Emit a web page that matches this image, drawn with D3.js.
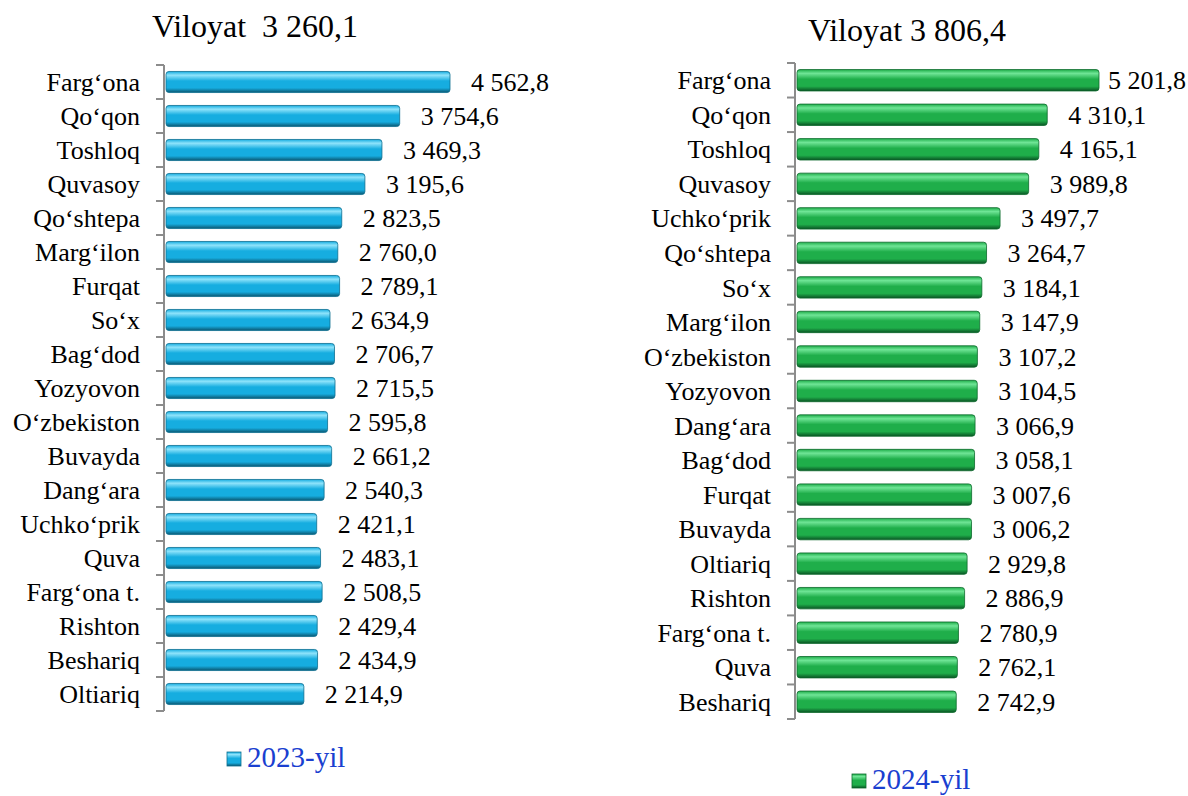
<!DOCTYPE html>
<html>
<head>
<meta charset="utf-8">
<script src="https://cdn.jsdelivr.net/npm/d3@7"></script>
<style>
  body { margin: 0; background: #fff; }
  text { font-family: "Liberation Serif", "Times New Roman", serif; }
</style>
</head>
<body>
<svg id="chart" width="1188" height="796"></svg>
<script>
// 2023
const districts2023 = ["Farg‘ona", "Qo‘qon", "Toshloq", "Quvasoy", "Qo‘shtepa", "Marg‘ilon", "Furqat", "So‘x",
  "Bag‘dod", "Yozyovon", "O‘zbekiston", "Buvayda", "Dang‘ara", "Uchko‘prik", "Quva", "Farg‘ona t.",
  "Rishton", "Beshariq", "Oltiariq"];
const values2023 = [4562.8, 3754.6, 3469.3, 3195.6, 2823.5, 2760.0, 2789.1, 2634.9, 2706.7, 2715.5,
  2595.8, 2661.2, 2540.3, 2421.1, 2483.1, 2508.5, 2429.4, 2434.9, 2214.9];
const total2023 = 3260.1;

// 2024
const districts2024 = ["Farg‘ona", "Qo‘qon", "Toshloq", "Quvasoy", "Uchko‘prik", "Qo‘shtepa", "So‘x", "Marg‘ilon",
  "O‘zbekiston", "Yozyovon", "Dang‘ara", "Bag‘dod", "Furqat", "Buvayda", "Oltiariq", "Rishton",
  "Farg‘ona t.", "Quva", "Beshariq"];
const values2024 = [5201.8, 4310.1, 4165.1, 3989.8, 3497.7, 3264.7, 3184.1, 3147.9, 3107.2, 3104.5,
  3066.9, 3058.1, 3007.6, 3006.2, 2929.8, 2886.9, 2780.9, 2762.1, 2742.9];
const total2024 = 3806.4;

const fmt = v => {
  const [i, f] = v.toFixed(1).split(".");
  return i.replace(/\B(?=(\d{3})+(?!\d))/g, " ") + "," + f;
};

const svg = d3.select("#chart");
const defs = svg.append("defs");

function makeGrad(id, light, mid, dark) {
  const g = defs.append("linearGradient").attr("id", id)
    .attr("x1", 0).attr("y1", 0).attr("x2", 0).attr("y2", 1);
  g.append("stop").attr("offset", "0%").attr("stop-color", mid);
  g.append("stop").attr("offset", "18%").attr("stop-color", light);
  g.append("stop").attr("offset", "45%").attr("stop-color", mid);
  g.append("stop").attr("offset", "78%").attr("stop-color", mid);
  g.append("stop").attr("offset", "100%").attr("stop-color", dark);
}
makeGrad("gBlue", "#8ee3fb", "#16ade0", "#0a5670");
makeGrad("gGreen", "#6fe596", "#1fae4a", "#0a5424");

function drawPanel(cfg) {
  const { names, values, total, axisX, top, bottom, xMax, maxPx, rightEdge, grad, stroke, titleX, titleY, legX, legY, legText } = cfg;

  const y = d3.scaleBand().domain(names).range([top, bottom]).paddingInner(0.38).paddingOuter(0.19);
  const x = d3.scaleLinear().domain([0, xMax]).range([axisX + 2, axisX + 2 + maxPx]);

  const g = svg.append("g");

  // bars
  g.selectAll("rect.bar").data(names).join("rect")
    .attr("class", "bar")
    .attr("x", x(0))
    .attr("y", (d) => y(d))
    .attr("width", (d, i) => x(values[i]) - x(0))
    .attr("height", y.bandwidth())
    .attr("rx", 3)
    .attr("fill", `url(#${grad})`)
    .attr("stroke", stroke)
    .attr("stroke-width", 0.8);

  // axis line + boundary ticks
  const step = (bottom - top) / names.length;
  g.append("line")
    .attr("x1", axisX).attr("x2", axisX)
    .attr("y1", top).attr("y2", bottom)
    .attr("stroke", "#8c8c8c").attr("stroke-width", 2);
  g.selectAll("line.tick").data(d3.range(names.length + 1)).join("line")
    .attr("class", "tick")
    .attr("x1", axisX - 8).attr("x2", axisX)
    .attr("y1", i => top + i * step).attr("y2", i => top + i * step)
    .attr("stroke", "#8c8c8c").attr("stroke-width", 2);

  // category labels
  g.selectAll("text.cat").data(names).join("text")
    .attr("class", "cat")
    .attr("x", axisX - 24)
    .attr("y", d => y(d) + y.bandwidth() / 2)
    .attr("dy", "0.35em")
    .attr("text-anchor", "end")
    .attr("font-size", 26)
    .attr("fill", "#000")
    .text(d => d);

  // value labels
  g.selectAll("text.val").data(names).join("text")
    .attr("class", "val")
    .attr("y", d => y(d) + y.bandwidth() / 2)
    .attr("dy", "0.35em")
    .attr("font-size", 26)
    .attr("fill", "#000")
    .text((d, i) => fmt(values[i]))
    .each(function (d, i) {
      const w = this.getComputedTextLength();
      const px = Math.min(x(values[i]) + 21, rightEdge - w);
      d3.select(this).attr("x", px);
    });

  // title
  svg.append("text")
    .attr("x", titleX).attr("y", titleY)
    .attr("font-size", 32)
    .attr("fill", "#000")
    .style("white-space", "pre")
    .text(cfg.titlePrefix + fmt(total));

  // legend
  svg.append("rect")
    .attr("x", legX).attr("y", legY - 15)
    .attr("width", 14).attr("height", 14)
    .attr("fill", `url(#${grad})`)
    .attr("stroke", stroke).attr("stroke-width", 0.8);
  svg.append("text")
    .attr("x", legX + 20).attr("y", legY)
    .attr("font-size", 29)
    .attr("fill", "#1a3fd0")
    .text(legText);
}

drawPanel({
  names: districts2023, values: values2023, total: total2023,
  axisX: 164, top: 65, bottom: 711, xMax: 4562.8, maxPx: 284, rightEdge: 550,
  grad: "gBlue", stroke: "#0d6f90",
  titleX: 152, titleY: 37, titlePrefix: "Viloyat  ",
  legX: 227, legY: 767, legText: "2023-yil"
});

drawPanel({
  names: districts2024, values: values2024, total: total2024,
  axisX: 795, top: 63, bottom: 719, xMax: 5201.8, maxPx: 302, rightEdge: 1186,
  grad: "gGreen", stroke: "#0c6a2c",
  titleX: 808, titleY: 41, titlePrefix: "Viloyat ",
  legX: 852, legY: 789, legText: "2024-yil"
});
</script>
</body>
</html>
